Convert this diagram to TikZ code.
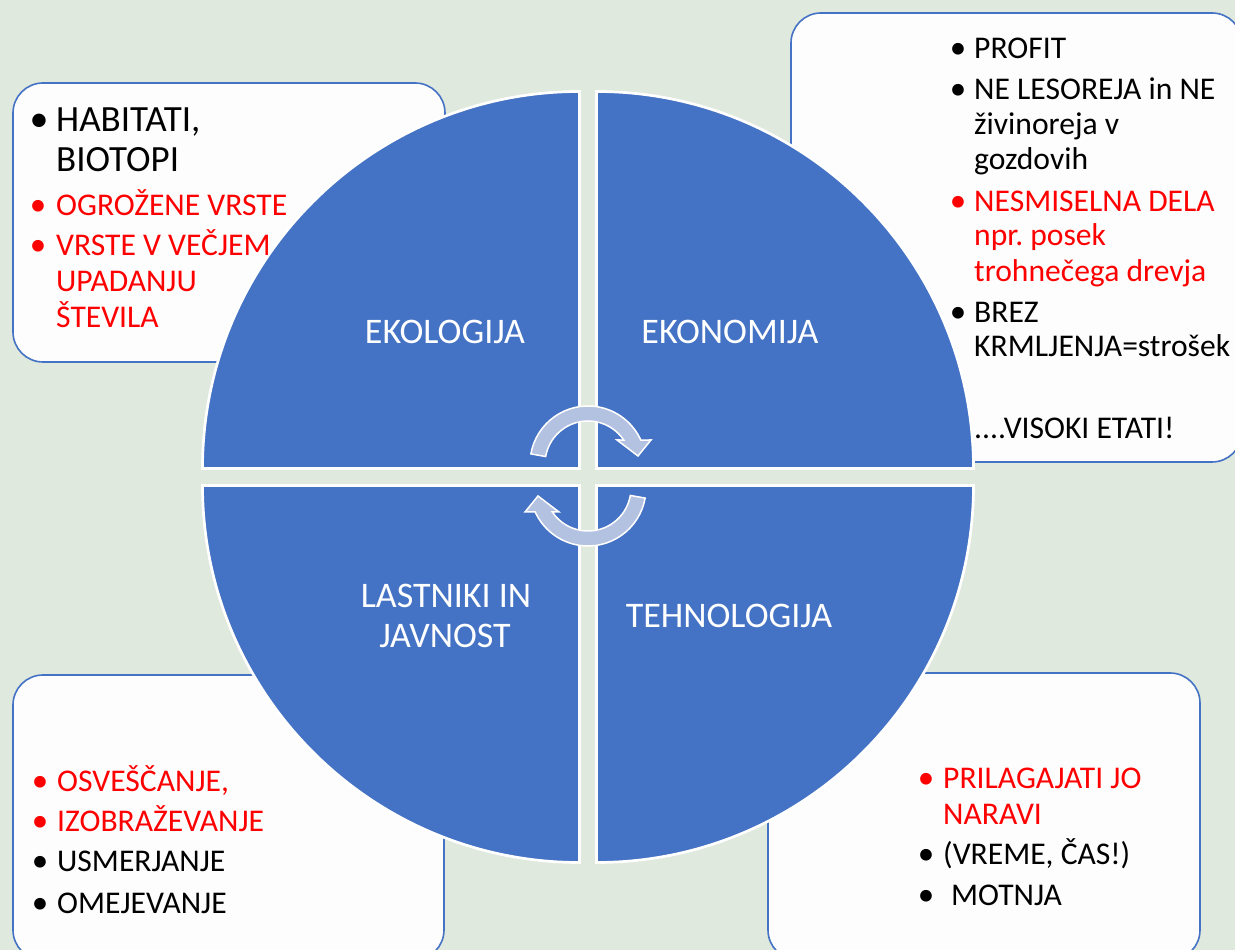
\documentclass[tikz,border=0pt]{standalone}
\usepackage{fontspec}
\setmainfont{Carlito}
\frenchspacing
\definecolor{bgc}{RGB}{224,233,221}
\definecolor{qblue}{RGB}{68,114,196}
\definecolor{arrfill}{RGB}{180,194,226}
\definecolor{boxfill}{RGB}{253,253,253}
\definecolor{tred}{RGB}{255,0,0}
\tikzset{
  box/.style={draw=qblue, line width=1.6pt, fill=boxfill, rounded corners=30pt},
  quad/.style={fill=qblue, draw=white, line width=2.7pt, line join=miter},
  txt/.style={anchor=base west, inner sep=0pt, font=\fontsize{31.6}{36}\selectfont},
  bigtxt/.style={anchor=base west, inner sep=0pt, font=\fontsize{37}{40}\selectfont},
  rtxt/.style={txt, text=tred},
  bul/.style={anchor=base, inner sep=0pt, font=\fontsize{33}{36}\selectfont},
  rbul/.style={bul, text=tred},
  lbl/.style={anchor=base, inner sep=0pt, text=white, font=\fontsize{36}{40}\selectfont},
  arrstyle/.style={fill=arrfill, draw=white, line width=1.5pt, line join=miter},
  cyclearrow/.pic={
    \draw[arrstyle] (170:58) arc[start angle=170, end angle=24.4, radius=58]
      -- (63,24) -- (50,8) -- (29,24) -- (33.9:43)
      arc[start angle=33.9, end angle=170, radius=43] -- cycle;
  }
}
\begin{document}
\begin{tikzpicture}[x=1pt,y=1pt]
\useasboundingbox (0,0) rectangle (1235,950);
\clip (0,0) rectangle (1235,950);
\fill[bgc] (0,0) rectangle (1235,950);
% boxes
\draw[box] (13,588) rectangle (445,867);
\draw[box] (791,488) rectangle (1242,937);
\draw[box] (13,-10) rectangle (444,275);
\draw[box] (768,-10) rectangle (1200,277);
% quadrants
\def\R{377}
\draw[quad] (579.5,481.5) -- ++(-\R,0) arc[start angle=180, end angle=90, radius=\R] -- cycle;
\draw[quad] (596.5,481.5) -- ++(0,\R) arc[start angle=90, end angle=0, radius=\R] -- cycle;
\draw[quad] (579.5,464.5) -- ++(0,-\R) arc[start angle=270, end angle=180, radius=\R] -- cycle;
\draw[quad] (596.5,464.5) -- ++(\R,0) arc[start angle=0, end angle=-90, radius=\R] -- cycle;
% cycle arrows
\pic at (588,486) {cyclearrow};
\pic[rotate=180] at (588,462) {cyclearrow};
% quadrant labels
\node[lbl] (lek) at (445,606) {EKOLOGIJA};
\node[lbl] (lekon) at (730,606) {EKONOMIJA};
\node[lbl] (llast1) at (446,342) {LASTNIKI IN};
\node[lbl] (llast2) at (445,302) {JAVNOST};
\node[lbl] (ltech) at (729,322) {TEHNOLOGIJA};
% top-left box text
\node[bul, font=\fontsize{38}{40}\selectfont] (b1) at (39,818) {•};
\node[bigtxt] (t1) at (56,818) {HABITATI,};
\node[bigtxt] (t2) at (56,778) {BIOTOPI};
\node[rbul] (b2) at (38,734) {•};
\node[rtxt] (t3) at (56,734) {OGROŽENE VRSTE};
\node[rbul] (b3) at (38,694) {•};
\node[rtxt] (t4) at (56,694) {VRSTE V VEČJEM};
\node[rtxt] (t5) at (56,658) {UPADANJU};
\node[rtxt] (t6) at (56,622) {ŠTEVILA};
% top-right box text
\node[bul] (c1) at (958,891) {•};
\node[txt] (r1) at (974,891) {PROFIT};
\node[bul] (c2) at (958,850) {•};
\node[txt] (r2) at (974,850) {NE LESOREJA in NE};
\node[txt] (r3) at (974,815) {živinoreja v};
\node[txt] (r4) at (974,780) {gozdovih};
\node[rbul] (c3) at (958,738) {•};
\node[rtxt] (r5) at (974,738) {NESMISELNA DELA};
\node[rtxt] (r6) at (974,704) {npr. posek};
\node[rtxt] (r7) at (974,668) {trohnečega drevja};
\node[bul] (c4) at (958,627) {•};
\node[txt] (r8) at (974,627) {BREZ};
\node[txt] (r9) at (974,593) {KRMLJENJA=strošek};
\node[txt] (r10) at (974,511) {....VISOKI ETATI!};
% bottom-left box text
\node[rbul] (d1) at (40,158) {•};
\node[rtxt] (s1) at (57,158) {OSVEŠČANJE,};
\node[rbul] (d2) at (40,118) {•};
\node[rtxt] (s2) at (57,118) {IZOBRAŽEVANJE};
\node[bul] (d3) at (40,78) {•};
\node[txt] (s3) at (57,78) {USMERJANJE};
\node[bul] (d4) at (40,36) {•};
\node[txt] (s4) at (57,36) {OMEJEVANJE};
% bottom-right box text
\node[rbul] (e1) at (926,161) {•};
\node[rtxt] (u1) at (943,161) {PRILAGAJATI JO};
\node[rtxt] (u2) at (943,125) {NARAVI};
\node[bul] (e2) at (926,85) {•};
\node[txt] (u3) at (943,85) {(VREME, ČAS!)};
\node[bul] (e3) at (926,44) {•};
\node[txt] (u4) at (951,44) {MOTNJA};
\end{tikzpicture}
\end{document}
